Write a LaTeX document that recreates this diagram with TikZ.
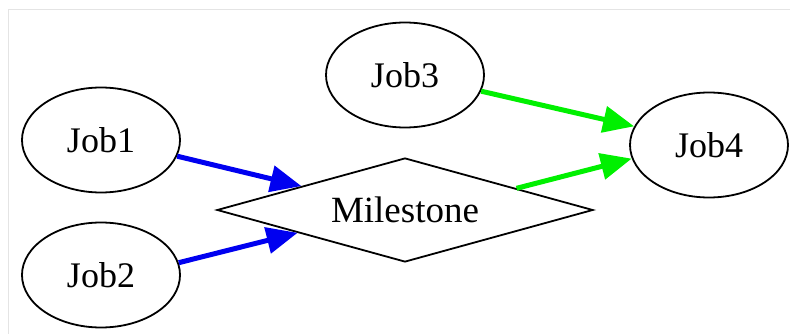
\documentclass[tikz,border=0pt]{standalone}
\usepackage{fontspec}
\setmainfont{Liberation Serif}
\usetikzlibrary{shapes.geometric,arrows.meta}
\definecolor{framegray}{HTML}{E4E4E4}
\definecolor{edgeblue}{HTML}{0000F0}
\definecolor{edgegreen}{HTML}{00F000}
\tikzset{
  job/.style={draw=black, line width=1.8pt, ellipse, inner sep=0pt,
    minimum width=158pt, minimum height=105pt, font=\fontsize{36}{40}\selectfont},
  milestone/.style={draw=black, line width=1.8pt, diamond, inner sep=0pt,
    shape aspect=3.6, minimum width=376pt, minimum height=104pt,
    font=\fontsize{37}{40}\selectfont},
  link/.style={line width=5pt, -{Triangle[length=31pt,width=26pt]}},
}
\begin{document}
\begin{tikzpicture}[x=1pt,y=-1pt]
\useasboundingbox (0,0) rectangle (790,334);
\draw[framegray, line width=1pt] (8,334) -- (8,10) -- (790,10);
\node[job] (job1) at (101,140) {Job1};
\node[job] (job2) at (101,275) {Job2};
\node[job] (job3) at (405,75) {Job3};
\node[job] (job4) at (709,145) {Job4};
\node[milestone] (ms) at (405,210) {Milestone};
\draw[link, edgeblue] (job1.-12.8) -- (ms.167.3);
\draw[link, edgeblue] (job2.9.8) -- (ms.192.6);
\draw[link, edgegreen] (job3.-12.8) -- (job4.166);
\draw[link, edgegreen] (ms.11.6) -- (job4.190.2);
\end{tikzpicture}
\end{document}
